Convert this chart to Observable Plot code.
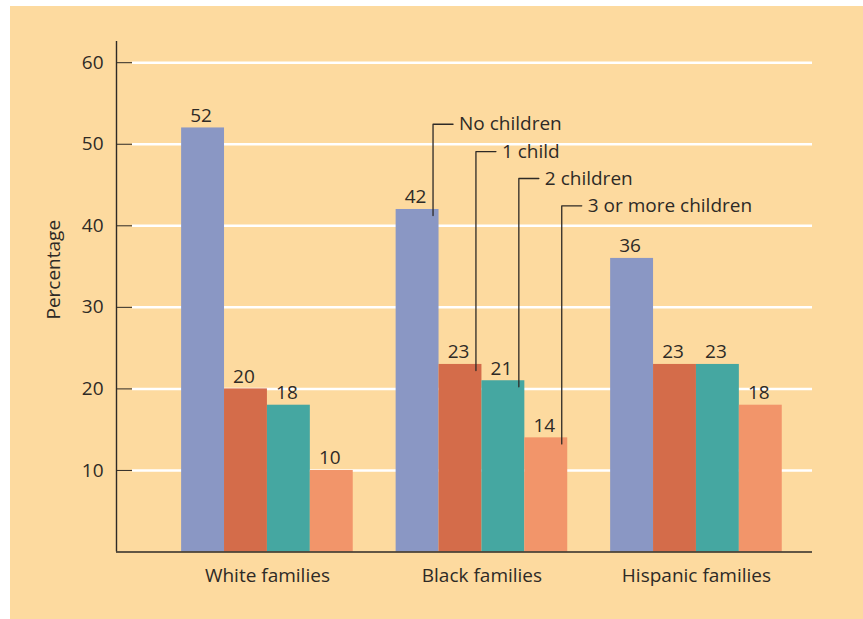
<!DOCTYPE html>
<html>
<head>
<meta charset="utf-8">
<script src="https://cdn.jsdelivr.net/npm/d3@7"></script>
<script src="https://cdn.jsdelivr.net/npm/@observablehq/plot@0.6"></script>
<style>
  html, body { margin: 0; padding: 0; background: #ffffff; }
  #panel { position: absolute; left: 10px; top: 6px; width: 853px; height: 613px; background: #FDDA9F; }
</style>
</head>
<body>
<div id="panel"></div>
<script>
// ---- data ----
const groups = ["White families", "Black families", "Hispanic families"];
const series = ["No children", "1 child", "2 children", "3 or more children"];
const noChildren = [52, 42, 36];
const oneChild = [20, 23, 23];
const twoChildren = [18, 21, 23];
const threePlus = [10, 14, 18];
const yTicks = [10, 20, 30, 40, 50, 60];

// ---- styling / layout ----
const colors = ["#8A97C4", "#D46C4A", "#45A7A1", "#F2956A"];
const dark = "#2e2a26";
const font = "'Open Sans', sans-serif";
const fs = 19;
const xDomain = [-0.629, 2.541];
const yMax = 62.6;
const pxPerX = 680 / (xDomain[1] - xDomain[0]);
const axisX0 = xDomain[0] - 16 / pxPerX;
const barW = 0.2;

const values = [noChildren, oneChild, twoChildren, threePlus];
const rows = [];
groups.forEach((g, gi) => {
  series.forEach((s, si) => {
    const x1 = gi - 2 * barW + si * barW;
    rows.push({group: g, series: s, value: values[si][gi], x1, x2: x1 + barW, xc: x1 + barW / 2});
  });
});

// callout legend attached to the "Black families" bars
const calloutGroup = 1;
const calloutLevels = [52.45, 49.1, 45.8, 42.45];
const armLen = 20 / pxPerX;
const inBar = 6 / pxPerX;
const legendPts = [];
const legendLabels = [];
series.forEach((s, si) => {
  const r = rows.find(d => d.series === s && d.group === groups[calloutGroup]);
  const lx = r.x2 - inBar;
  legendPts.push({series: s, x: lx, y: r.value - 0.75});
  legendPts.push({series: s, x: lx, y: calloutLevels[si]});
  legendPts.push({series: s, x: lx + armLen, y: calloutLevels[si]});
  legendLabels.push({series: s, x: lx + armLen, y: calloutLevels[si]});
});

const chart = Plot.plot({
  width: 853,
  height: 613,
  marginLeft: 122,
  marginRight: 51,
  marginTop: 35,
  marginBottom: 67.5,
  style: {background: "transparent", fontFamily: font, fontSize: fs + "px", color: dark},
  x: {type: "linear", domain: xDomain, ticks: [0, 1, 2], tickFormat: i => groups[i], tickSize: 0, tickPadding: 16, label: null},
  y: {domain: [0, yMax], ticks: yTicks, tickSize: 16, tickPadding: 13, label: null},
  color: {domain: series, range: colors},
  marks: [
    Plot.ruleY(yTicks, {stroke: "white", strokeWidth: 2.5}),
    Plot.rect(rows, {x1: "x1", x2: "x2", y1: 0, y2: "value", fill: "series"}),
    Plot.text(rows, {x: "xc", y: "value", text: d => String(d.value), lineAnchor: "bottom", dy: -6, dx: -2, fill: dark, fontSize: fs}),
    Plot.ruleY([0], {x1: axisX0, x2: xDomain[1], stroke: dark, strokeWidth: 1.6}),
    Plot.ruleX([axisX0], {y1: 0, y2: yMax, stroke: dark, strokeWidth: 1.4}),
    Plot.line(legendPts, {x: "x", y: "y", z: "series", stroke: dark, strokeWidth: 1.3}),
    Plot.text(legendLabels, {x: "x", y: "y", text: "series", textAnchor: "start", dx: 6, fill: dark, fontSize: fs}),
    Plot.text(["Percentage"], {frameAnchor: "left", textAnchor: "middle", rotate: -90, dx: -79, dy: -27, fill: dark, fontSize: fs})
  ]
});
document.getElementById("panel").appendChild(chart);
</script>
</body>
</html>
